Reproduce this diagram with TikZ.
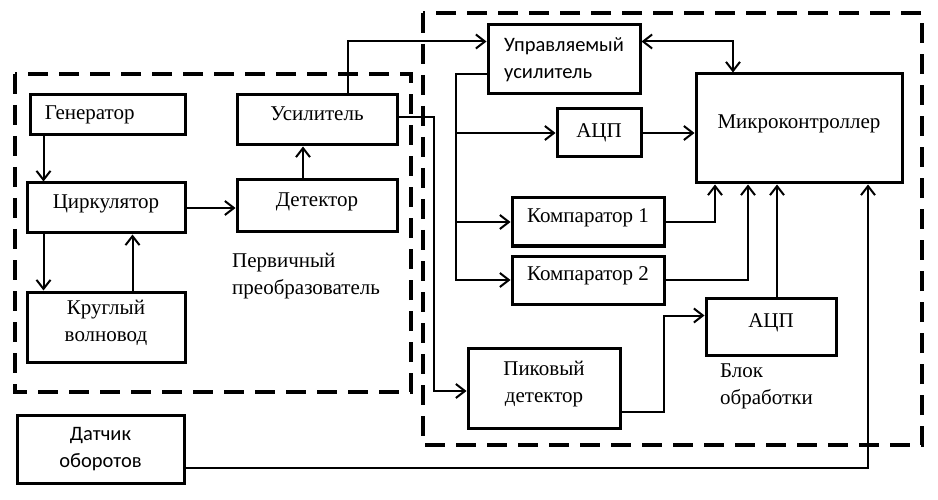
\documentclass[tikz,border=0pt]{standalone}
\usepackage{fontspec}
\setmainfont{Liberation Serif}
\newfontfamily\calfont{Carlito}
\usetikzlibrary{arrows.meta}
\begin{document}
\begin{tikzpicture}[x=1pt,y=-1pt,
    blk/.style={draw,line width=3pt,inner sep=1pt,align=center,font=\fontsize{21}{27}\selectfont},
    sansblk/.style={blk,font=\calfont\fontsize{20.5}{27}\selectfont},
    lifted/.style={text height=14pt,text depth=13pt},
    lifted2/.style={text height=41pt,text depth=13pt},
    lbl/.style={anchor=west,align=left,inner sep=0pt,font=\fontsize{21}{27}\selectfont},
    frame/.style={line width=3.5pt,dash pattern=on 20pt off 11pt},
    arr/.style={line width=2pt,-{Straight Barb[length=9pt,width=14pt]}},
    arrtwo/.style={line width=2pt,{Straight Barb[length=9pt,width=14pt]}-{Straight Barb[length=9pt,width=14pt]}}]
    \useasboundingbox (0,0) rectangle (938,500);
    \draw [frame] (15,74) rectangle (411,392);
    \draw [frame] (423,13) rectangle (922,445);
    \node[blk,minimum height=40pt,text width=125pt,inner xsep=15pt,align=left] (gen) at (107.5,115) {Генератор};
    \node[blk,lifted,minimum width=158pt,minimum height=50pt] (circ) at (106,208) {Циркулятор};
    \node[blk,lifted2,minimum width=158pt,minimum height=70pt] (wave) at (106,327) {Круглый\\волновод};
    \node[blk,lifted,minimum width=160pt,minimum height=50pt] (amp) at (317,120) {Усилитель};
    \node[blk,lifted,minimum width=160pt,minimum height=52pt] (det) at (317,206) {Детектор};
    \node[lbl] (prim) at (232,276) {Первичный\\преобразователь};
    \node[sansblk,align=left,minimum width=152pt,minimum height=69pt] (uamp) at (564,59.5) {Управляемый\\усилитель};
    \node[blk,minimum width=84pt,minimum height=48pt] (adc1) at (599,133) {АЦП};
    \node[blk,lifted,minimum width=206pt,minimum height=109pt] (mcu) at (799,128.5) {Микроконтроллер};
    \node[blk,lifted,minimum width=152pt,minimum height=48pt] (comp1) at (588,222) {Компаратор 1};
    \node[blk,lifted,minimum width=152pt,minimum height=48pt] (comp2) at (588,280) {Компаратор 2};
    \node[blk,lifted,minimum width=130pt,minimum height=57pt] (adc2) at (771,326.5) {АЦП};
    \node[blk,lifted2,minimum width=152pt,minimum height=80pt] (peak) at (544,388) {Пиковый\\детектор};
    \node[lbl] (proc) at (720,386) {Блок\\обработки};
    \node[sansblk,minimum width=167pt,minimum height=68pt] (rpm) at (100.5,449) {Датчик\\оборотов};
    \coordinate (bus) at (456,0);
    \draw [arr] ([xshift=15pt]gen.south west) -- ([xshift=18pt]circ.north west);
    \draw [arr] ([xshift=18pt]circ.south west) -- ([xshift=18pt]wave.north west);
    \draw [arr] ([xshift=107pt]wave.north west) -- ([xshift=107pt]circ.south west);
    \draw [arr] (circ.east) -- (circ.east -| det.west);
    \draw [arr] ([xshift=-14pt]det.north) -- ([xshift=-14pt]amp.south);
    \draw [arr] ([xshift=31pt]amp.north) |- ([yshift=18pt]uamp.west);
    \draw [arr] ([yshift=3pt]amp.east) -- ++(35,0) |- ([yshift=-3pt]peak.west);
    \draw [arr] ([yshift=-15pt]uamp.west) -| (bus |- comp2.west) -- (comp2.west);
    \draw [arr] (bus |- adc1.west) -- (adc1.west);
    \draw [arr] (bus |- comp1.west) -- (comp1.west);
    \draw [arrtwo] ([yshift=18pt]uamp.east) -| ([xshift=-66pt]mcu.north);
    \draw [arr] (adc1.east) -- (adc1.east -| mcu.west);
    \draw [arr] (comp1.east) -| ([xshift=-84pt]mcu.south);
    \draw [arr] (comp2.east) -| ([xshift=-51pt]mcu.south);
    \draw [arr] ([xshift=6pt]adc2.north) -- ([xshift=6pt]adc2.north |- mcu.south);
    \draw [arr] ([yshift=-24pt]peak.east) -- ++(42,0) |- ([yshift=11pt]adc2.west);
    \draw [arr] ([yshift=-19pt]rpm.east) -| ([xshift=69pt]mcu.south);
\end{tikzpicture}
\end{document}
